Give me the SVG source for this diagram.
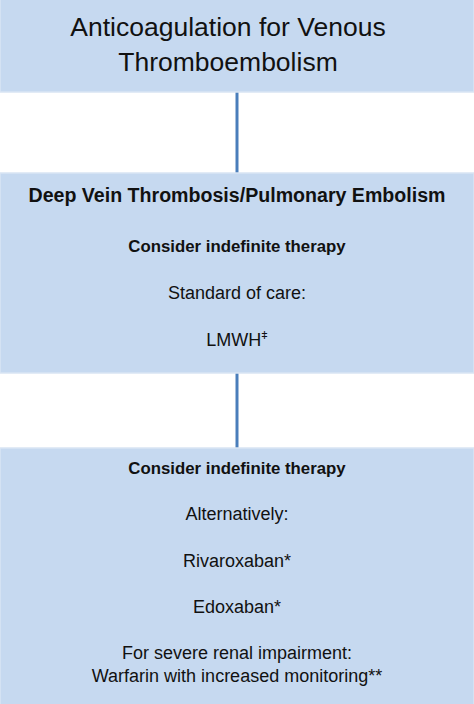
<svg xmlns="http://www.w3.org/2000/svg" width="474" height="704" viewBox="0 0 474 704">
<style>
.box{fill:#c6d9f0;stroke:#d9e5f4;stroke-width:1.5}
.conn{stroke:#4a7ebb;stroke-width:3;fill:none}
text{font-family:"Liberation Sans",Arial,sans-serif;fill:#111;text-anchor:middle}
.t{font-size:26.5px}
.h{font-size:19.6px;font-weight:bold}
.b{font-size:16.8px;font-weight:bold}
.r{font-size:18px}
</style>
<rect width="474" height="704" fill="#fff"/>
<g id="connectors">
<line class="conn" x1="237" y1="92" x2="237" y2="173"/>
<line class="conn" x1="237" y1="373" x2="237" y2="448"/>
</g>
<g id="node-title">
<rect class="box" x="0" y="-2" width="474" height="94"/>
<text class="t" x="228" y="36">Anticoagulation for Venous</text>
<text class="t" x="228" y="71">Thromboembolism</text>
</g>
<g id="node-dvt">
<rect class="box" x="0" y="173" width="474" height="200"/>
<text class="h" x="237" y="202">Deep Vein Thrombosis/Pulmonary Embolism</text>
<text class="b" x="237" y="252">Consider indefinite therapy</text>
<text class="r" x="237" y="299">Standard of care:</text>
<text class="r" x="237" y="346">LMWH<tspan font-size="11" dy="-7">ǂ</tspan></text>
</g>
<g id="node-alt">
<rect class="box" x="0" y="448" width="474" height="258"/>
<text class="b" x="237" y="474">Consider indefinite therapy</text>
<text class="r" x="237" y="520">Alternatively:</text>
<text class="r" x="237" y="567">Rivaroxaban*</text>
<text class="r" x="237" y="613">Edoxaban*</text>
<text class="r" x="237" y="659">For severe renal impairment:</text>
<text class="r" x="237" y="682">Warfarin with increased monitoring**</text>
</g>
</svg>
